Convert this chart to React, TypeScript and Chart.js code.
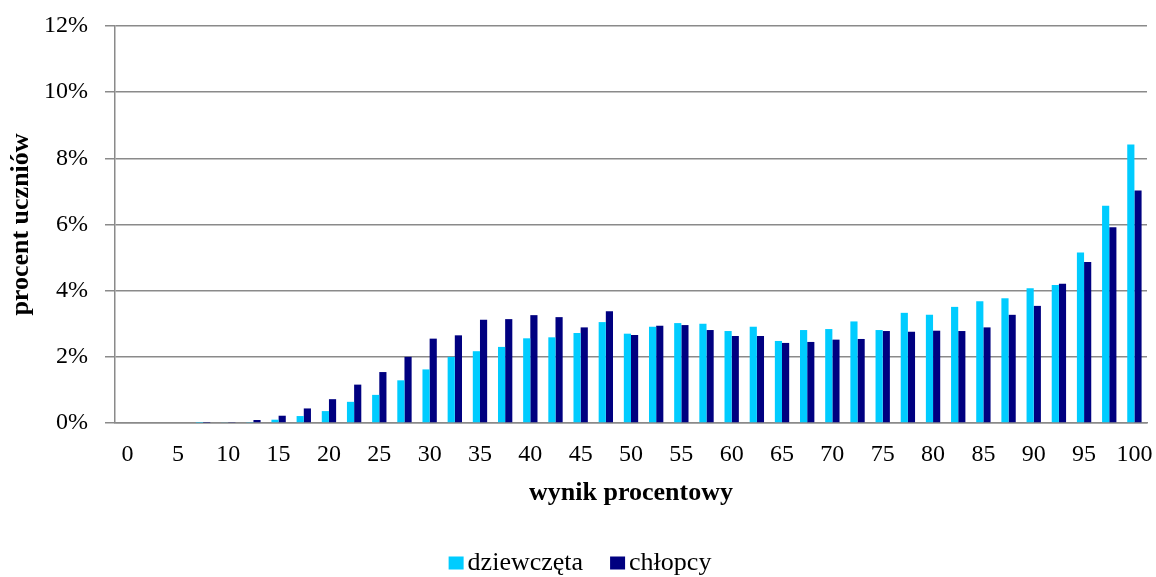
import React, { useEffect, useRef } from "react";
import { Chart, registerables } from "chart.js";

Chart.register(...registerables);

const categories = [
  "0", "2.5", "5", "7.5", "10", "12.5", "15", "17.5", "20", "22.5",
  "25", "27.5", "30", "32.5", "35", "37.5", "40", "42.5", "45", "47.5",
  "50", "52.5", "55", "57.5", "60", "62.5", "65", "67.5", "70", "72.5",
  "75", "77.5", "80", "82.5", "85", "87.5", "90", "92.5", "95", "97.5", "100",
];

const girls = [
  0, 0, 0, 0.01, 0.02, 0.03, 0.1, 0.21, 0.36, 0.64,
  0.85, 1.29, 1.62, 2.0, 2.17, 2.3, 2.56, 2.59, 2.72, 3.05,
  2.7, 2.91, 3.02, 3.0, 2.78, 2.91, 2.48, 2.81, 2.84, 3.07,
  2.81, 3.33, 3.27, 3.51, 3.68, 3.77, 4.07, 4.17, 5.15, 6.57, 8.42,
];

const boys = [
  0, 0, 0, 0.01, 0.03, 0.09, 0.22, 0.44, 0.72, 1.16,
  1.54, 2.0, 2.55, 2.65, 3.12, 3.14, 3.26, 3.2, 2.89, 3.38,
  2.66, 2.94, 2.96, 2.81, 2.63, 2.63, 2.42, 2.45, 2.52, 2.54,
  2.78, 2.76, 2.79, 2.78, 2.89, 3.27, 3.54, 4.21, 4.87, 5.92, 7.03,
];

const shownTickLabels = ["0", "5", "10", "15", "20", "25", "30", "35", "40", "45", "50",
  "55", "60", "65", "70", "75", "80", "85", "90", "95", "100"];

const seriesNames = ["dziewczęta", "chłopcy"];
const seriesColors = ["#00CCFF", "#000080"];

const FONT = "'Liberation Serif', 'Times New Roman', serif";
const GRID = "#8a8a8a";

export default function App() {
  const ref = useRef<HTMLCanvasElement | null>(null);

  useEffect(() => {
    document.body.style.margin = "0";
    const canvas = ref.current;
    if (!canvas) return;

    const legendPlugin = {
      id: "bottomLegend",
      afterDraw(chart: any) {
        const ctx = chart.ctx as CanvasRenderingContext2D;
        ctx.save();
        ctx.font = `26px ${FONT}`;
        const items = chart.data.datasets.map((d: any) => ({ text: d.label, color: d.backgroundColor }));
        const boxW = 15, boxH = 13, gapText = 4, gapItem = 27;
        const widths = items.map((it: any) => ctx.measureText(it.text).width);
        let total = 0;
        widths.forEach((w: number) => (total += boxW + gapText + w));
        total += gapItem * (items.length - 1);
        let x = chart.width / 2 - total / 2 + 2;
        const baseline = chart.height - 7.5;
        items.forEach((it: any, i: number) => {
          ctx.fillStyle = it.color;
          ctx.fillRect(x, baseline - boxH, boxW, boxH);
          x += boxW + gapText;
          ctx.fillStyle = "#000";
          ctx.textAlign = "left";
          ctx.textBaseline = "alphabetic";
          ctx.fillText(it.text, x, baseline);
          x += widths[i] + gapItem;
        });
        ctx.restore();
      },
    };

    const chart = new Chart(canvas, {
      type: "bar",
      data: {
        labels: categories,
        datasets: [
          {
            label: seriesNames[0],
            data: girls,
            backgroundColor: seriesColors[0],
            borderWidth: 0,
            categoryPercentage: 0.57,
            barPercentage: 1,
          },
          {
            label: seriesNames[1],
            data: boys,
            backgroundColor: seriesColors[1],
            borderWidth: 0,
            categoryPercentage: 0.57,
            barPercentage: 1,
          },
        ],
      },
      options: {
        animation: false,
        responsive: false,
        devicePixelRatio: 1,
        layout: { padding: { top: 26, right: 9, bottom: 68, left: 0 } },
        plugins: {
          legend: { display: false },
          tooltip: { enabled: false },
        },
        scales: {
          x: {
            grid: { display: false, drawTicks: false },
            border: { display: true, color: GRID, width: 1.5 },
            ticks: {
              autoSkip: false,
              maxRotation: 0,
              padding: 17,
              color: "#000",
              font: { family: FONT, size: 24 },
              callback: (_v: any, i: number) =>
                shownTickLabels.includes(categories[i]) ? categories[i] : "",
            },
            title: {
              display: true,
              text: "wynik procentowy",
              color: "#000",
              font: { family: FONT, size: 26, weight: "bold" },
              padding: { top: 0, bottom: 0 },
            },
            afterFit: (s: any) => {
              s.height = 86;
              s.paddingLeft = 0;
              s.paddingRight = 0;
            },
          },
          y: {
            min: 0,
            max: 12,
            ticks: {
              stepSize: 2,
              padding: 17,
              color: "#000",
              font: { family: FONT, size: 24 },
              callback: (v: any) => `${v}%`,
            },
            grid: { color: GRID, lineWidth: 1.5, tickLength: 10, drawTicks: true },
            border: { display: true, color: GRID, width: 1.5 },
            title: {
              display: true,
              text: "procent uczniów",
              color: "#000",
              font: { family: FONT, size: 26, weight: "bold" },
              padding: { top: 6, bottom: 0 },
            },
            afterFit: (s: any) => {
              s.width = 115;
              s.paddingTop = 0;
              s.paddingBottom = 0;
            },
          },
        },
      },
      plugins: [legendPlugin],
    } as any);

    return () => chart.destroy();
  }, []);

  return (
    <div style={{ position: "fixed", left: 0, top: 0, width: 1156, height: 577, background: "#fff" }}>
      <canvas ref={ref} width={1156} height={577} style={{ width: 1156, height: 577, display: "block" }} />
    </div>
  );
}
